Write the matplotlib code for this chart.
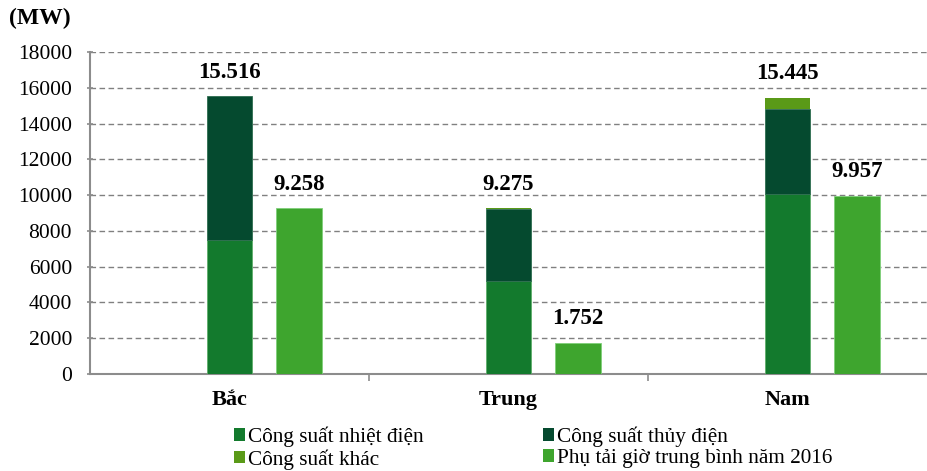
import matplotlib
matplotlib.use("Agg")
import matplotlib.pyplot as plt
import numpy as np
from matplotlib.patches import Patch

regions = ["Bắc", "Trung", "Nam"]
thermal = [7500, 5200, 10050]
hydro = [8016, 4025, 4760]
other = [0, 50, 635]
totals = [15516, 9275, 15445]
load_2016 = [9258, 1752, 9957]

series_names = ["Công suất nhiệt điện", "Công suất thủy điện",
                "Công suất khác", "Phụ tải giờ trung bình năm 2016"]
colors = ["#137A2D", "#054A2F", "#5A9A18", "#3EA52E"]

plt.rcParams['font.family'] = ['Liberation Serif', 'DejaVu Serif']

fig = plt.figure(figsize=(9.27, 4.71), dpi=100)
ax = fig.add_axes([90 / 927, 1 - 374 / 471, 837 / 927, 322 / 471])

x = np.arange(len(regions))
w = 0.164
off = 0.25

ax.bar(x, thermal, w, color=colors[0], edgecolor="#5fae6a", linewidth=0.6, zorder=3)
ax.bar(x, hydro, w, bottom=thermal, color=colors[1], edgecolor="#2e6e50", linewidth=0.6, zorder=3)
ax.bar(x, other, w, bottom=np.add(thermal, hydro), color=colors[2], linewidth=0, zorder=3)
ax.bar(x + off, load_2016, w, color=colors[3], edgecolor="#7fcf7a", linewidth=0.6, zorder=3)

fmt = lambda v: f"{v:,}".replace(",", ".")
for xi, t in zip(x, totals):
    ax.text(xi, t + 750, fmt(t), ha="center", va="bottom", fontsize=16.5, fontweight="bold")
for xi, v in zip(x, load_2016):
    ax.text(xi + off, v + 750, fmt(v), ha="center", va="bottom", fontsize=16.5, fontweight="bold")

ax.set_xlim(-0.5, 2.5)
ax.set_ylim(0, 18000)
ax.set_yticks(np.arange(0, 18001, 2000))
ax.set_yticklabels([str(v) for v in range(0, 18001, 2000)], fontsize=15.5)
ax.yaxis.grid(True, linestyle=(0, (4, 2.5)), color="#808080", linewidth=1.0, zorder=0)
ax.set_axisbelow(True)

ax.set_xticks([0.5, 1.5])
ax.set_xticklabels([])
ax.tick_params(axis="x", length=5, width=1.2, color="#8c8c8c", direction="out")
ax.tick_params(axis="y", length=4, width=1.2, color="#8c8c8c", direction="inout", pad=11)
for i, name in enumerate(regions):
    ax.text(i, -900, name, ha="center", va="top", fontsize=16, fontweight="bold")

for s in ["top", "right"]:
    ax.spines[s].set_visible(False)
for s in ["left", "bottom"]:
    ax.spines[s].set_color("#8c8c8c")
    ax.spines[s].set_linewidth(1.5)

fig.text(9 / 927, 1 - 18 / 471, "(MW)", fontsize=17, fontweight="bold", va="center")

# two columns filled column-wise: thermal/other on the left, hydro/load on the right
order = [0, 2, 1, 3]
handles = [Patch(facecolor=colors[i], edgecolor="none") for i in order]
labels = [series_names[i] for i in order]
fig.legend(handles, labels, loc="center left", ncol=2,
           bbox_to_anchor=(234 / 927, 1 - 448 / 471), frameon=False,
           fontsize=15.3, handlelength=0.52, handleheight=0.52, handletextpad=0.15,
           columnspacing=5.6, labelspacing=0.1, borderpad=0, borderaxespad=0)

fig.savefig("out.png", dpi=100)
